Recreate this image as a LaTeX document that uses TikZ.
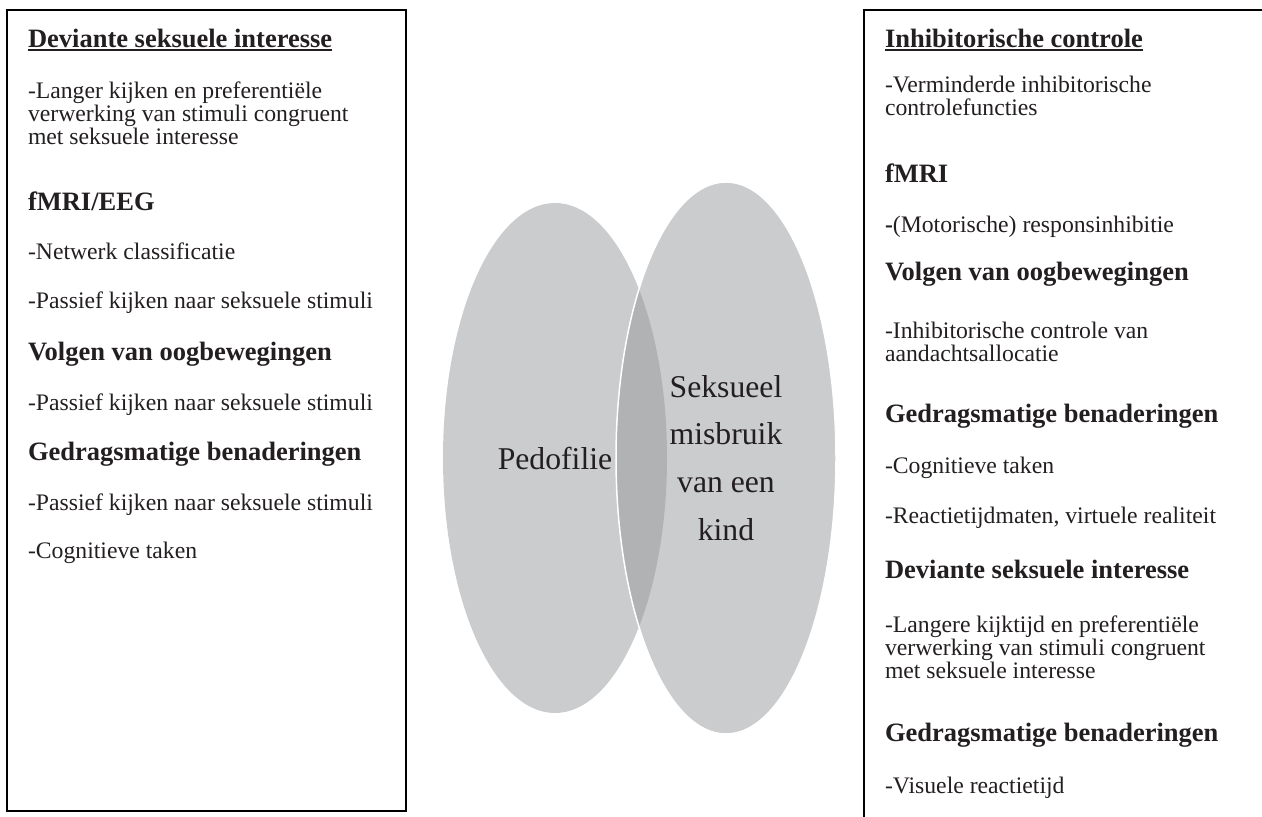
\documentclass[tikz,border=0pt]{standalone}
\usepackage{fontspec}
\setmainfont{Liberation Serif}
\usetikzlibrary{positioning}
\definecolor{vennLicht}{RGB}{203,204,206}
\definecolor{vennDonker}{RGB}{177,178,180}
\definecolor{tekstZwart}{RGB}{35,31,32}

\newcommand\kop[1]{{\fontsize{26.5}{26.5}\selectfont\bfseries #1}}
\newcommand\onderstreept[1]{\setbox0\hbox{#1}\rlap{\rule[-3.5pt]{\wd0}{1.1pt}}\box0}
\newcommand\titel[1]{\kop{\onderstreept{#1}}}

\begin{document}
\begin{tikzpicture}[x=1pt,y=-1pt,
    every node/.style={inner sep=0pt,outer sep=0pt,text=tekstZwart,
      font=\fontsize{23.7}{23.3}\selectfont},
    regel/.style={anchor=base west},
    vennTekst/.style={font=\fontsize{31.7}{47.7}\selectfont,align=center},
    kader/.style={line width=1.3pt,draw=black}]

      \useasboundingbox (0,0) rectangle (1262,817);

      \def\linksTekst{
        47/{\titel{Deviante seksuele interesse}},
        98/{-Langer kijken en preferentiële},
        121/{verwerking van stimuli congruent},
        144/{met seksuele interesse},
        210/{\kop{fMRI/EEG}},
        259/{-Netwerk classificatie},
        308/{-Passief kijken naar seksuele stimuli},
        360/{\kop{Volgen van oogbewegingen}},
        410/{-Passief kijken naar seksuele stimuli},
        460/{\kop{Gedragsmatige benaderingen}},
        510/{-Passief kijken naar seksuele stimuli},
        558/{-Cognitieve taken}
      }

      \def\rechtsTekst{
        47/{\titel{Inhibitorische controle}},
        92/{-Verminderde inhibitorische},
        115/{controlefuncties},
        182/{\kop{fMRI}},
        232/{{\bfseries -}(Motorische) responsinhibitie},
        280/{\kop{Volgen van oogbewegingen}},
        338/{-Inhibitorische controle van},
        361/{aandachtsallocatie},
        422/{\kop{Gedragsmatige benaderingen}},
        473/{-Cognitieve taken},
        523/{-Reactietijdmaten, virtuele realiteit},
        578/{\kop{Deviante seksuele interesse}},
        632/{-Langere kijktijd en preferentiële},
        655/{verwerking van stimuli congruent},
        678/{met seksuele interesse},
        741/{\kop{Gedragsmatige benaderingen}},
        793/{-Visuele reactietijd}
      }

      % draw the boxes
      \draw[kader] (7,10) rectangle (406,811);
      \draw[kader] (1264,10) -- (864,10) -- (864,819);

      % draw the venn
      \coordinate (pedoMidden) at (555,458);
      \coordinate (misbruikMidden) at (726,458);
      \fill[vennLicht] (pedoMidden) ellipse [x radius=112,y radius=255];
      \fill[vennLicht] (misbruikMidden) ellipse [x radius=110,y radius=276];
      \begin{scope}
        \clip (pedoMidden) ellipse [x radius=112,y radius=255];
        \fill[vennDonker] (misbruikMidden) ellipse [x radius=110,y radius=276];
      \end{scope}
      \draw[white,line width=1.5pt] (misbruikMidden) ellipse [x radius=110,y radius=276];

      \node[vennTekst] (pedofilie) at (pedoMidden) {Pedofilie};
      \node[vennTekst] (misbruik) at (misbruikMidden) {Seksueel\\misbruik\\van een\\kind};

      % the text of both boxes
      \foreach \y/\t [count=\i] in \linksTekst
        \node[regel] (links\i) at (28,\y) {\t};
      \foreach \y/\t [count=\i] in \rechtsTekst
        \node[regel] (rechts\i) at (885,\y) {\t};

\end{tikzpicture}
\end{document}
